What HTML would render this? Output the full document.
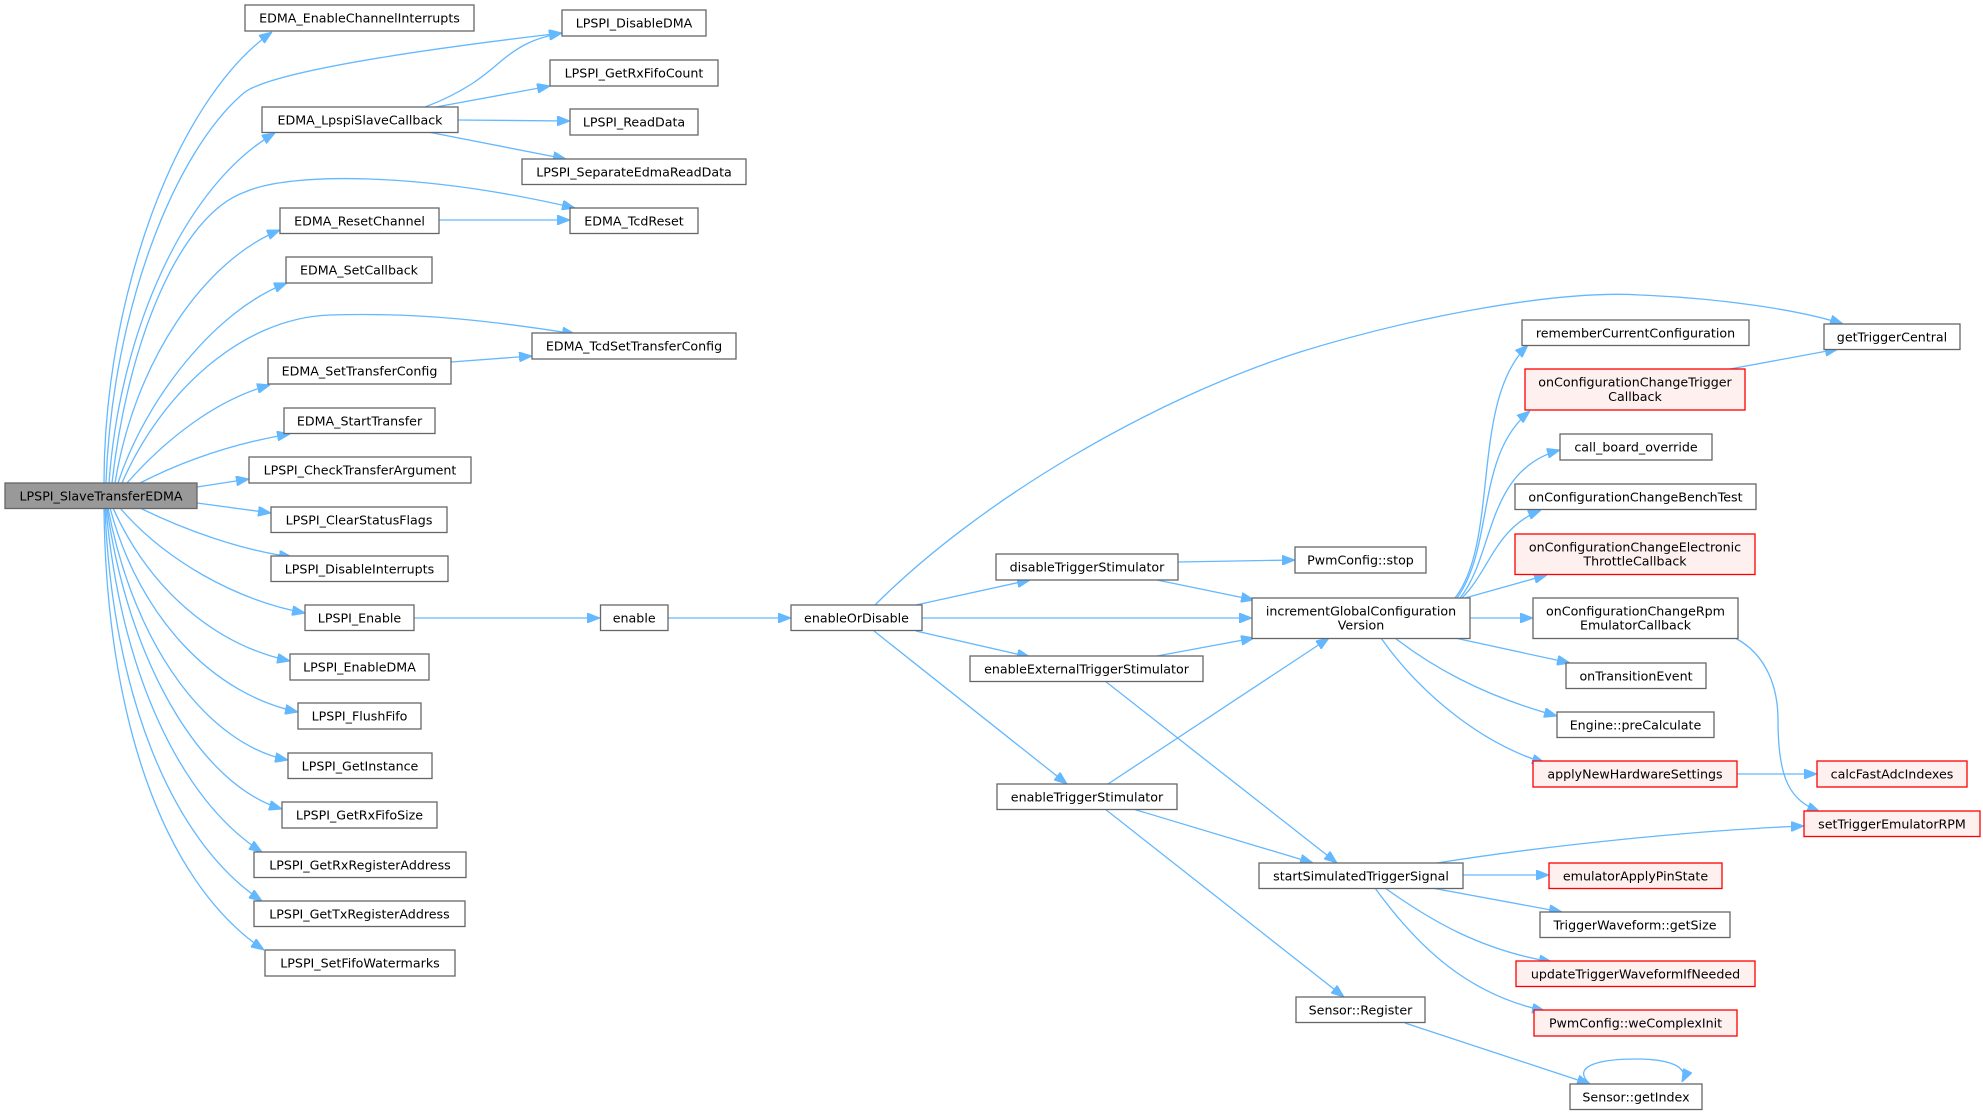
<!DOCTYPE html>
<html>
<head>
<meta charset="utf-8">
<style>
html,body{margin:0;padding:0;background:#fff;}
svg{display:block;}
text{font-family:"DejaVu Sans","Liberation Sans",sans-serif;font-size:12.65px;fill:#000;text-anchor:middle;}
.e{fill:none;stroke:#63b8ff;stroke-width:1.3;marker-end:url(#a);}
.n{fill:#fff;stroke:#666;stroke-width:1.3;}
.r{fill:#fff0f0;stroke:#ff0000;stroke-width:1.3;}
.root{fill:#999;stroke:#666;stroke-width:1.3;}
</style>
</head>
<body>
<svg width="1983" height="1115" viewBox="0 0 1983 1115" xmlns="http://www.w3.org/2000/svg">
<defs>
<marker id="a" viewBox="0 0 13 10" refX="13" refY="5" markerWidth="13" markerHeight="10" markerUnits="userSpaceOnUse" orient="auto">
<path d="M0,0 L13,5 L0,10 z" fill="#63b8ff" stroke="#63b8ff" stroke-width="1"/>
</marker>
</defs>

<!-- edges from root, upward fan -->
<path class="e" d="M104,483 C104,300 175,100 272,32"/>
<path class="e" d="M106,483 C112,310 175,150 245,92 C280,68 460,45 562,33"/>
<path class="e" d="M109,483 C120,330 185,185 275,133"/>
<path class="e" d="M112,483 C128,340 180,215 245,192 C290,172 420,172 575,208"/>
<path class="e" d="M115,483 C135,360 205,260 280,230"/>
<path class="e" d="M118,483 C145,400 215,310 287,283"/>
<path class="e" d="M122,483 C160,395 240,318 330,315 C420,312 500,322 575,334"/>
<path class="e" d="M127,483 C165,440 215,400 270,385"/>
<path class="e" d="M140,483 C185,460 235,443 290,434"/>
<!-- root right -->
<path class="e" d="M197,487 L249,479"/>
<path class="e" d="M197,503 L271,513"/>
<path class="e" d="M140,508 C185,530 240,550 292,557"/>
<!-- root bottom fan -->
<path class="e" d="M120,508 C165,560 235,600 305,613"/>
<path class="e" d="M113,508 C150,590 215,645 290,661"/>
<path class="e" d="M110,508 C140,620 215,695 298,712"/>
<path class="e" d="M108,508 C135,650 210,745 288,760"/>
<path class="e" d="M107,508 C128,660 200,785 282,809"/>
<path class="e" d="M106,508 C120,670 180,800 262,852"/>
<path class="e" d="M105,508 C112,690 170,840 262,901"/>
<path class="e" d="M104,508 C106,710 160,880 264,950"/>

<!-- EDMA_LpspiSlaveCallback edges -->
<path class="e" d="M425,107 C465,92 485,75 500,62 C520,45 535,38 562,33"/>
<path class="e" d="M436,107 L550,86"/>
<path class="e" d="M458,120 L570,121"/>
<path class="e" d="M428,132 L566,159"/>
<path class="e" d="M439,220 L570,220"/>
<path class="e" d="M451,362 L532,356"/>
<path class="e" d="M414,618 L600,618"/>
<path class="e" d="M668,618 L791,618"/>

<!-- enableOrDisable edges -->
<path class="e" d="M875,605 C980,500 1150,400 1300,352 C1420,315 1560,290 1640,295 C1720,298 1800,310 1843,324"/>
<path class="e" d="M916,605 L1030,580"/>
<path class="e" d="M922,618 L1252,618"/>
<path class="e" d="M916,631 L1030,657"/>
<path class="e" d="M874,631 L1067,784"/>
<path class="e" d="M1178,562 L1295,560"/>
<path class="e" d="M1157,580 L1254,600"/>
<path class="e" d="M1157,656 L1254,638"/>
<path class="e" d="M1105,681 L1337,863"/>
<path class="e" d="M1108,784 L1329,638"/>
<path class="e" d="M1133,809 L1313,863"/>
<path class="e" d="M1105,809 L1344,997"/>

<!-- incrementGlobalConfigurationVersion edges -->
<path class="e" d="M1455,598 C1500,540 1470,400 1528,345"/>
<path class="e" d="M1457,598 C1495,545 1475,455 1530,411"/>
<path class="e" d="M1460,598 C1495,555 1485,470 1560,450"/>
<path class="e" d="M1462,598 C1490,570 1495,528 1541,510"/>
<path class="e" d="M1465,598 L1547,575"/>
<path class="e" d="M1470,618 L1533,618"/>
<path class="e" d="M1455,638 L1570,663"/>
<path class="e" d="M1395,638 C1430,665 1480,695 1557,716"/>
<path class="e" d="M1381,638 C1410,680 1470,740 1545,763"/>
<path class="e" d="M1737,774 L1817,774"/>
<path class="e" d="M1730,369 L1838,349"/>
<path class="e" d="M1735,638 C1768,655 1778,690 1778,720 C1778,780 1790,800 1820,812"/>

<!-- startSimulatedTriggerSignal edges -->
<path class="e" d="M1437,863 C1550,845 1700,830 1804,826"/>
<path class="e" d="M1463,875 L1549,875"/>
<path class="e" d="M1432,888 L1562,912"/>
<path class="e" d="M1385,888 C1430,920 1480,950 1552,962"/>
<path class="e" d="M1375,888 C1420,950 1470,995 1545,1011"/>
<!-- Sensor -->
<path class="e" d="M1405,1023 L1590,1084"/>
<path class="e" d="M1590,1084 C1570,1066 1600,1059 1636,1059 C1668,1059 1690,1066 1682,1082"/>

<!-- nodes -->
<rect class="n" x="245" y="5" width="229" height="26"/><text x="359.5" y="22.3">EDMA_EnableChannelInterrupts</text>
<rect class="n" x="562" y="10" width="144" height="26"/><text x="634" y="27.3">LPSPI_DisableDMA</text>
<rect class="n" x="550" y="60" width="168" height="26"/><text x="634" y="77.3">LPSPI_GetRxFifoCount</text>
<rect class="n" x="262" y="107" width="196" height="25.5"/><text x="360" y="124.3">EDMA_LpspiSlaveCallback</text>
<rect class="n" x="570" y="109" width="128" height="26"/><text x="634" y="126.3">LPSPI_ReadData</text>
<rect class="n" x="522" y="159" width="224" height="25.5"/><text x="634" y="176.3">LPSPI_SeparateEdmaReadData</text>
<rect class="n" x="280" y="208" width="159" height="25.5"/><text x="359.5" y="225.3">EDMA_ResetChannel</text>
<rect class="n" x="570" y="208" width="128" height="25.5"/><text x="634" y="225.3">EDMA_TcdReset</text>
<rect class="n" x="286" y="257" width="146" height="26"/><text x="359" y="274.3">EDMA_SetCallback</text>
<rect class="n" x="532" y="333" width="204" height="26"/><text x="634" y="350.3">EDMA_TcdSetTransferConfig</text>
<rect class="n" x="268" y="358" width="183" height="26"/><text x="359.5" y="375.3">EDMA_SetTransferConfig</text>
<rect class="n" x="284" y="408" width="151" height="25.5"/><text x="359.5" y="425.3">EDMA_StartTransfer</text>
<rect class="n" x="249" y="457" width="222" height="26"/><text x="360" y="474.3">LPSPI_CheckTransferArgument</text>
<rect class="root" x="5" y="483" width="192" height="25.5"/><text x="101" y="500.3">LPSPI_SlaveTransferEDMA</text>
<rect class="n" x="271" y="507" width="176" height="25.5"/><text x="359" y="524.3">LPSPI_ClearStatusFlags</text>
<rect class="n" x="271" y="556" width="177" height="25.5"/><text x="359.5" y="573.3">LPSPI_DisableInterrupts</text>
<rect class="n" x="305" y="605" width="109" height="25.5"/><text x="359.5" y="622.3">LPSPI_Enable</text>
<rect class="n" x="600.5" y="605" width="67.5" height="25.5"/><text x="634.2" y="622.3">enable</text>
<rect class="n" x="290" y="654" width="139" height="26"/><text x="359.5" y="671.3">LPSPI_EnableDMA</text>
<rect class="n" x="298" y="703" width="123" height="26"/><text x="359.5" y="720.3">LPSPI_FlushFifo</text>
<rect class="n" x="288" y="753" width="144" height="25.5"/><text x="360" y="770.3">LPSPI_GetInstance</text>
<rect class="n" x="282" y="802" width="155" height="26"/><text x="359.5" y="819.3">LPSPI_GetRxFifoSize</text>
<rect class="n" x="254" y="852" width="212" height="25.5"/><text x="360" y="869.3">LPSPI_GetRxRegisterAddress</text>
<rect class="n" x="254" y="901" width="211" height="25.5"/><text x="359.5" y="918.3">LPSPI_GetTxRegisterAddress</text>
<rect class="n" x="265" y="950" width="190" height="26"/><text x="360" y="967.3">LPSPI_SetFifoWatermarks</text>

<rect class="n" x="791" y="605" width="131" height="25.5"/><text x="856.5" y="622.3">enableOrDisable</text>
<rect class="n" x="996" y="554" width="182" height="26"/><text x="1087" y="571.3">disableTriggerStimulator</text>
<rect class="n" x="1295" y="547" width="131" height="26"/><text x="1360.5" y="564.3">PwmConfig::stop</text>
<rect class="n" x="1252" y="598" width="218" height="40.5"/><text x="1361" y="615.5">incrementGlobalConfiguration</text><text x="1361" y="629.7">Version</text>
<rect class="n" x="970" y="656" width="233" height="25.5"/><text x="1086.5" y="673.3">enableExternalTriggerStimulator</text>
<rect class="n" x="997" y="784" width="180" height="25.5"/><text x="1087" y="801.3">enableTriggerStimulator</text>
<rect class="n" x="1259" y="863" width="204" height="25.5"/><text x="1361" y="880.3">startSimulatedTriggerSignal</text>
<rect class="n" x="1296" y="997" width="129" height="25.5"/><text x="1360.5" y="1014.3">Sensor::Register</text>

<rect class="n" x="1522" y="320" width="227" height="25.5"/><text x="1635.5" y="337.3">rememberCurrentConfiguration</text>
<rect class="n" x="1824" y="324" width="136" height="25.5"/><text x="1892" y="341.3">getTriggerCentral</text>
<rect class="r" x="1525" y="369" width="220" height="41"/><text x="1635" y="386.5">onConfigurationChangeTrigger</text><text x="1635" y="400.8">Callback</text>
<rect class="n" x="1560" y="434" width="152" height="26"/><text x="1636" y="451.3">call_board_override</text>
<rect class="n" x="1515" y="484" width="241" height="25.5"/><text x="1635.5" y="501.3">onConfigurationChangeBenchTest</text>
<rect class="r" x="1515" y="534" width="240" height="40.5"/><text x="1635" y="551.5">onConfigurationChangeElectronic</text><text x="1635" y="565.7">ThrottleCallback</text>
<rect class="n" x="1533" y="598" width="205" height="40.5"/><text x="1635.5" y="615.5">onConfigurationChangeRpm</text><text x="1635.5" y="629.7">EmulatorCallback</text>
<rect class="n" x="1566" y="663" width="140" height="25.5"/><text x="1636" y="680.3">onTransitionEvent</text>
<rect class="n" x="1557" y="712" width="157" height="25.5"/><text x="1635.5" y="729.3">Engine::preCalculate</text>
<rect class="r" x="1533" y="761" width="204" height="26"/><text x="1635" y="778.3">applyNewHardwareSettings</text>
<rect class="r" x="1817" y="761" width="150" height="26"/><text x="1892" y="778.3">calcFastAdcIndexes</text>
<rect class="r" x="1804" y="811" width="176" height="25.5"/><text x="1892" y="828.3">setTriggerEmulatorRPM</text>
<rect class="r" x="1549" y="863" width="173" height="25.5"/><text x="1635.5" y="880.3">emulatorApplyPinState</text>
<rect class="n" x="1540" y="912" width="190" height="25.5"/><text x="1635" y="929.3">TriggerWaveform::getSize</text>
<rect class="r" x="1516" y="961" width="239" height="25.5"/><text x="1635.5" y="978.3">updateTriggerWaveformIfNeeded</text>
<rect class="r" x="1534" y="1010" width="203" height="26"/><text x="1635.5" y="1027.3">PwmConfig::weComplexInit</text>
<rect class="n" x="1570" y="1084" width="132" height="25.5"/><text x="1636" y="1101.3">Sensor::getIndex</text>
</svg>
</body>
</html>
